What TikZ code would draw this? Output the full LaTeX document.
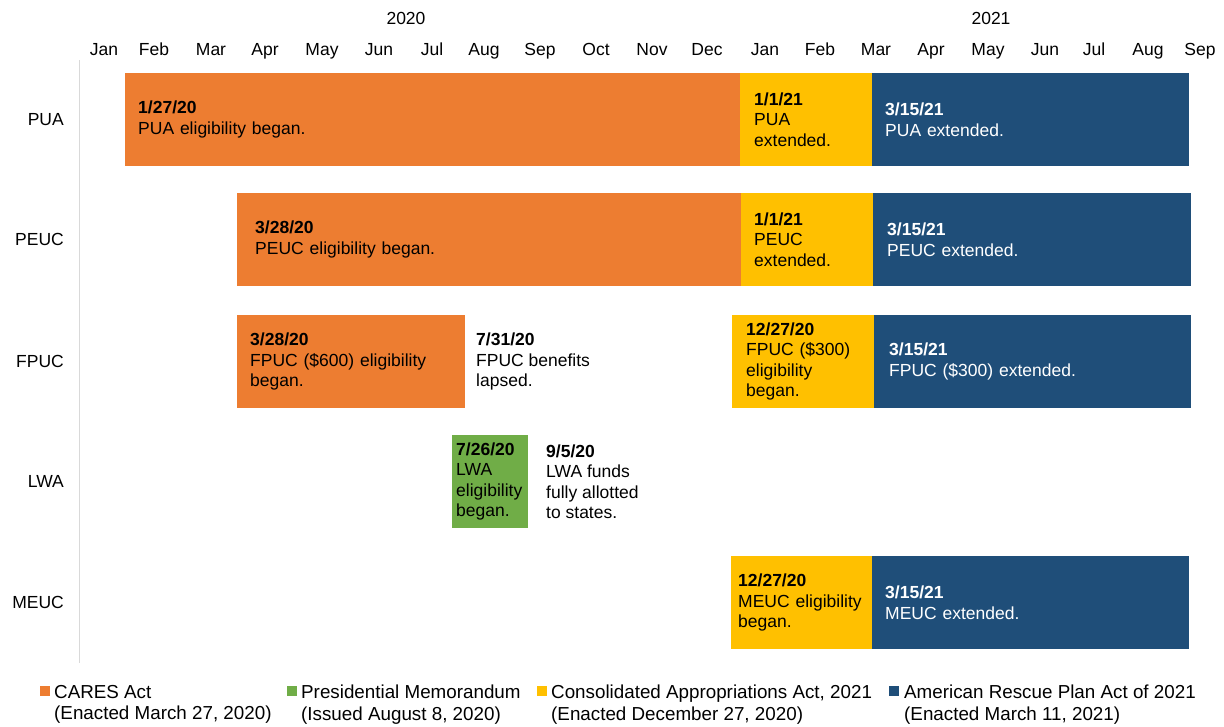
\documentclass[tikz,border=0pt]{standalone}
\usepackage{fontspec}
\setmainfont{Liberation Sans}
\usepackage{xcolor}
\definecolor{caresorange}{RGB}{237,125,49}
\definecolor{memogreen}{RGB}{112,173,71}
\definecolor{caayellow}{RGB}{255,192,0}
\definecolor{arpblue}{RGB}{31,78,121}
\definecolor{axisgray}{RGB}{217,217,217}
\tikzset{
  bar/.style={
    rectangle, fill=#1, draw=none,
    anchor=north west, minimum height=93pt,
    inner ysep=0pt, align=left,
    font=\fontsize{17.5}{20.5}\selectfont
  },
  freetext/.style={
    anchor=west, inner sep=0pt, align=left,
    font=\fontsize{17.5}{20.5}\selectfont
  },
  rowlabel/.style={anchor=east, inner sep=0pt, font=\fontsize{17.5}{20}\selectfont},
  monthlabel/.style={anchor=base, inner sep=0pt, font=\fontsize{17.5}{20}\selectfont},
  legbox/.style={rectangle, fill=#1, draw=none, minimum width=10pt, minimum height=10pt, inner sep=0pt},
  legtext/.style={
    anchor=north west, inner sep=0pt, align=left,
    font=\fontsize{18.8}{21.5}\selectfont
  }
}
\usetikzlibrary{positioning}

\begin{document}
\begin{tikzpicture}[x=1pt, y=-1pt]
\useasboundingbox (0,0) rectangle (1224,726);
% Annees
\node[monthlabel] (y20) at (406,24) {2020};
\node[monthlabel] (y21) at (991,24) {2021};
% Mois
\node[monthlabel] (jan20) at (104,55) {Jan};
\node[monthlabel] (feb20) at (154,55) {Feb};
\node[monthlabel] (mar20) at (211,55) {Mar};
\node[monthlabel] (apr20) at (265,55) {Apr};
\node[monthlabel] (may20) at (322,55) {May};
\node[monthlabel] (jun20) at (379,55) {Jun};
\node[monthlabel] (jul20) at (432,55) {Jul};
\node[monthlabel] (aug20) at (484,55) {Aug};
\node[monthlabel] (sep20) at (540,55) {Sep};
\node[monthlabel] (oct20) at (596,55) {Oct};
\node[monthlabel] (nov20) at (652,55) {Nov};
\node[monthlabel] (dec20) at (707,55) {Dec};
\node[monthlabel] (jan21) at (765,55) {Jan};
\node[monthlabel] (feb21) at (820,55) {Feb};
\node[monthlabel] (mar21) at (876,55) {Mar};
\node[monthlabel] (apr21) at (931,55) {Apr};
\node[monthlabel] (may21) at (988,55) {May};
\node[monthlabel] (jun21) at (1045,55) {Jun};
\node[monthlabel] (jul21) at (1094,55) {Jul};
\node[monthlabel] (aug21) at (1148,55) {Aug};
\node[monthlabel] (sep21) at (1200,55) {Sep};
% Axe
\coordinate (axtop) at (79.5,60);
\coordinate (axbot) at (79.5,663);
\draw[axisgray, line width=1.5pt] (axtop) -- (axbot);
% Programmes
\node[rowlabel] (pua)  at (64,119.5) {PUA};
\node[rowlabel] (peuc) at (64,239.5) {PEUC};
\node[rowlabel] (fpuc) at (64,361.5) {FPUC};
\node[rowlabel] (lwa)  at (64,481.5) {LWA};
\node[rowlabel] (meuc) at (64,602.5) {MEUC};
% PUA
\node[bar=caresorange, inner xsep=13pt, text width=589pt] (puaA) at (125,73)
  {\textbf{1/27/20}\\PUA eligibility began.};
\node[bar=caayellow, inner xsep=14pt, text width=104pt] (puaB) at (740,73)
  {\textbf{1/1/21}\\PUA\\extended.};
\node[bar=arpblue, text=white, inner xsep=13pt, text width=291pt] (puaC) at (872,73)
  {\textbf{3/15/21}\\PUA extended.};
% PEUC
\node[bar=caresorange, inner xsep=18pt, text width=468pt] (peucA) at (237,193)
  {\textbf{3/28/20}\\PEUC eligibility began.};
\node[bar=caayellow, inner xsep=13pt, text width=106pt] (peucB) at (741,193)
  {\textbf{1/1/21}\\PEUC\\extended.};
\node[bar=arpblue, text=white, inner xsep=14pt, text width=290pt] (peucC) at (873,193)
  {\textbf{3/15/21}\\PEUC extended.};
% FPUC
\node[bar=caresorange, inner xsep=13pt, text width=202pt] (fpucA) at (237,315)
  {\textbf{3/28/20}\\FPUC (\$600) eligibility\\began.};
\node[freetext] (fpucEnd) at (476,361.5)
  {\textbf{7/31/20}\\FPUC benefits\\lapsed.};
\node[bar=caayellow, inner xsep=14pt, text width=114pt] (fpucB) at (732,315)
  {\textbf{12/27/20}\\FPUC (\$300)\\eligibility\\began.};
\node[bar=arpblue, text=white, inner xsep=15pt, text width=287pt] (fpucC) at (874,315)
  {\textbf{3/15/21}\\FPUC (\$300) extended.};
% LWA
\node[bar=memogreen, inner xsep=4pt, text width=68pt] (lwaA) at (452,435)
  {\textbf{7/26/20}\\LWA\\eligibility\\began.};
\node[freetext] (lwaEnd) at (546,481.5)
  {\textbf{9/5/20}\\LWA funds\\fully allotted\\to states.};
% MEUC
\node[bar=caayellow, inner xsep=7pt, text width=127pt] (meucB) at (731,556)
  {\textbf{12/27/20}\\MEUC eligibility\\began.};
\node[bar=arpblue, text=white, inner xsep=13pt, text width=291pt] (meucC) at (872,556)
  {\textbf{3/15/21}\\MEUC extended.};
% Legende
\node[legbox=caresorange] (lgCares) at (45,691) {};
\node[legtext] (ltCares) at (54,685) {CARES Act\\(Enacted March 27, 2020)};
\node[legbox=memogreen] (lgMemo) at (292,691) {};
\node[legtext] (ltMemo) at (301,685) {Presidential Memorandum\\(Issued August 8, 2020)};
\node[legbox=caayellow] (lgCaa) at (542,691) {};
\node[legtext] (ltCaa) at (551,685) {Consolidated Appropriations Act, 2021\\(Enacted December 27, 2020)};
\node[legbox=arpblue] (lgArp) at (894,691) {};
\node[legtext] (ltArp) at (904,685) {American Rescue Plan Act of 2021\\(Enacted March 11, 2021)};
\end{tikzpicture}
\end{document}
